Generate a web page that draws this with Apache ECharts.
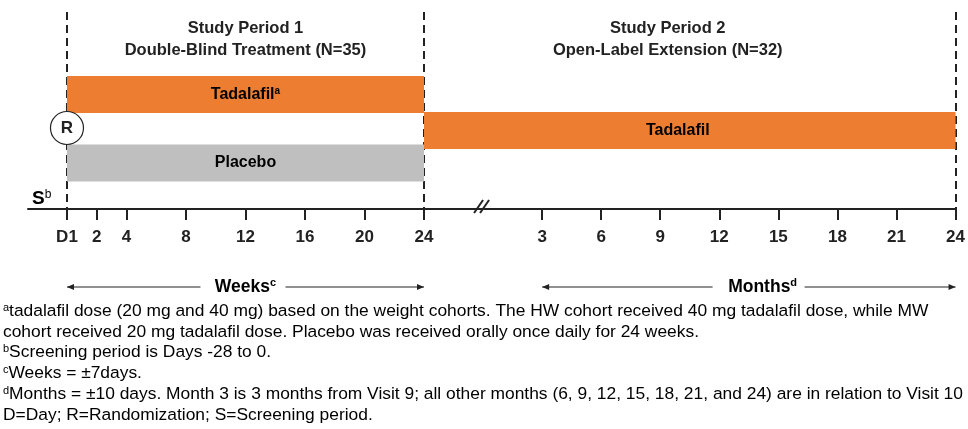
<!DOCTYPE html>
<html>
<head>
<meta charset="utf-8">
<script src="https://cdn.jsdelivr.net/npm/echarts@6/dist/echarts.min.js"></script>
<style>
html, body { margin: 0; background: #fff; }
#chart { width: 968px; height: 429px; }
</style>
</head>
<body>
<div id="chart"></div>
<script>
// timeline ticks
const weekTicks = [0, 2, 4, 8, 12, 16, 20, 24]
const weekLabels = ['D1', '2', '4', '8', '12', '16', '20', '24']
const monthTicks = [3, 6, 9, 12, 15, 18, 21, 24]
const monthLabels = ['3', '6', '9', '12', '15', '18', '21', '24']

// treatment arms (weeks in period 1, months in period 2)
const period1Arms = ['Tadalafil', 'Placebo']
const period1Sup = ['a', '']
const period1Start = [0, 0]
const period1End = [24, 24]
const period2Arms = ['Tadalafil']
const period2Start = [-3] // month axis begins where period 1 ends
const period2End = [24]

const period1Title = ['Study Period 1', 'Double-Blind Treatment (N=35)']
const period2Title = ['Study Period 2', 'Open-Label Extension (N=32)']

const footnotes = [
	['a', 'tadalafil dose (20 mg and 40 mg) based on the weight cohorts. The HW cohort received 40 mg tadalafil dose, while MW'],
	['', 'cohort received 20 mg tadalafil dose. Placebo was received orally once daily for 24 weeks.'],
	['b', 'Screening period is Days -28 to 0.'],
	['c', 'Weeks = \u00b17days.'],
	['d', 'Months = \u00b110 days. Month 3 is 3 months from Visit 9; all other months (6, 9, 12, 15, 18, 21, and 24) are in relation to Visit 10'],
	['', 'D=Day; R=Randomization; S=Screening period.'],
]

// layout (grid units are pixels from the grid top)
const FONT = '"Liberation Sans", Arial, sans-serif'
const INK = '#222'
const ORANGE = '#ED7D31'
const GREY = '#BFBFBF'
const BAR_H = 37
const period1RowY = [82.5, 151]
const period2RowY = [118.5]
const randomRowY = 116
const period1Fill = [ORANGE, GREY]

const chart = echarts.init(document.getElementById('chart'))

const makeRich = (size, supSize, raise) => ({
	b: { fontFamily: FONT, fontWeight: 'bold', fontSize: size, color: INK },
	s: { fontFamily: FONT, fontWeight: 'bold', fontSize: supSize, color: INK, padding: [0, 0, raise, 0] },
})
const barRich = makeRich(16, 10, 7)
const supText = (t, s) => '{b|' + t + '}' + (s ? '{s|' + s + '}' : '')

const renderBar = (fills, labelShift) => (params, api) => {
	const a = api.coord([api.value(0), api.value(2)])
	const b = api.coord([api.value(1), api.value(2)])
	const h = api.size([0, BAR_H])[1]
	return {
		type: 'group',
		children: [
			{
				type: 'rect',
				shape: { x: a[0], y: a[1] - h / 2, width: b[0] - a[0], height: h },
				style: { fill: fills[params.dataIndex] },
			},
			{
				type: 'text',
				style: {
					x: (a[0] + b[0]) / 2 + labelShift,
					y: a[1],
					text: api.value(3),
					rich: barRich,
					align: 'center',
					verticalAlign: 'middle',
				},
			},
		],
	}
}

const dashed = { type: [8, 5], width: 2, color: INK }

const xAxisBase = {
	type: 'value',
	position: 'bottom',
	splitLine: { show: false },
	axisLine: { show: true, onZero: false, lineStyle: { color: INK, width: 2 } },
	axisTick: { show: true, length: 11, lineStyle: { color: INK, width: 2 } },
}
const tickLabel = { fontFamily: FONT, fontWeight: 'bold', fontSize: 17, color: INK, margin: 20 }
const yAxisBase = { type: 'value', min: 0, max: 197, inverse: true, show: false }

chart.setOption({
	animation: false,
	grid: [
		{ left: 28, width: 396, top: 12, height: 197 },
		{ left: 424, right: 10, top: 12, height: 197 },
	],
	xAxis: [
		{
			...xAxisBase,
			gridIndex: 0,
			min: -2.62,
			max: 24,
			axisTick: { ...xAxisBase.axisTick, customValues: weekTicks },
			axisLabel: {
				...tickLabel,
				customValues: weekTicks,
				formatter: v => weekLabels[weekTicks.indexOf(v)],
			},
		},
		{
			...xAxisBase,
			gridIndex: 1,
			min: -3,
			max: 24,
			axisTick: { ...xAxisBase.axisTick, customValues: monthTicks },
			axisLabel: {
				...tickLabel,
				customValues: monthTicks,
				formatter: v => monthLabels[monthTicks.indexOf(v)],
			},
		},
	],
	yAxis: [
		{ ...yAxisBase, gridIndex: 0 },
		{ ...yAxisBase, gridIndex: 1 },
	],
	series: [
		{
			type: 'custom',
			xAxisIndex: 0,
			yAxisIndex: 0,
			z: 1,
			renderItem: () => null,
			data: [],
			markLine: {
				z: 1,
				silent: true,
				symbol: 'none',
				label: { show: false },
				lineStyle: dashed,
				data: [{ xAxis: 0 }, { xAxis: 24 }],
			},
		},
		{
			type: 'custom',
			xAxisIndex: 1,
			yAxisIndex: 1,
			z: 1,
			renderItem: () => null,
			data: [],
			markLine: {
				z: 1,
				silent: true,
				symbol: 'none',
				label: { show: false },
				lineStyle: dashed,
				data: [{ xAxis: 24 }],
			},
		},
		{
			type: 'custom',
			xAxisIndex: 0,
			yAxisIndex: 0,
			z: 3,
			renderItem: renderBar(period1Fill, 0),
			data: period1Arms.map((arm, i) => [
				period1Start[i], period1End[i], period1RowY[i], supText(arm, period1Sup[i]),
			]),
		},
		{
			type: 'custom',
			xAxisIndex: 1,
			yAxisIndex: 1,
			z: 3,
			renderItem: renderBar([ORANGE], -12),
			data: period2Arms.map((arm, i) => [
				period2Start[i], period2End[i], period2RowY[i], supText(arm, ''),
			]),
		},
		{
			type: 'scatter',
			xAxisIndex: 0,
			yAxisIndex: 0,
			z: 4,
			symbol: 'circle',
			symbolSize: 33,
			itemStyle: { color: '#fff', borderColor: INK, borderWidth: 1.2, opacity: 1 },
			label: {
				show: true,
				position: 'inside',
				formatter: 'R',
				fontFamily: FONT, fontWeight: 'bold', fontSize: 17, color: INK,
			},
			data: [[0, randomRowY]],
		},
	],
})

// decorations placed from the axis scales
const px1 = v => chart.convertToPixel({ xAxisIndex: 0 }, v)
const px2 = v => chart.convertToPixel({ xAxisIndex: 1 }, v)
const axisY = 209
const arrowY = 287

const boldText = (x, y, text, size) => ({
	type: 'text',
	x, y,
	style: {
		text, align: 'center', verticalAlign: 'middle',
		fontFamily: FONT, fontWeight: 'bold', fontSize: size || 16.5, fill: INK,
	},
})

const arrow = (x1, x2, y, dir) => {
	const tip = dir < 0 ? x1 : x2
	return [
		{ type: 'line', shape: { x1, y1: y, x2, y2: y }, style: { stroke: INK, lineWidth: 1 } },
		{
			type: 'polygon',
			shape: { points: [[tip, y], [tip - dir * 7, y - 3], [tip - dir * 7, y + 3]] },
			style: { fill: INK },
		},
	]
}

const arrowRich = makeRich(17.5, 11, 8)
const supLabel = (x, y, t, s) => ({
	type: 'text',
	x, y,
	style: {
		text: supText(t, s), rich: arrowRich, align: 'center', verticalAlign: 'middle',
	},
})

const graphics = []
const c1 = (px1(0) + px1(24)) / 2
const c2 = (px1(24) + px2(24)) / 2 - 22
graphics.push(boldText(c1, 28, period1Title[0]))
graphics.push(boldText(c1, 50, period1Title[1]))
graphics.push(boldText(c2, 28, period2Title[0]))
graphics.push(boldText(c2, 50, period2Title[1]))

// screening marker
graphics.push({
	type: 'text', x: 32, y: 199,
	style: {
		text: '{b|S}{s|b}', align: 'left', verticalAlign: 'middle',
		rich: {
			b: { fontFamily: FONT, fontWeight: 'bold', fontSize: 19, color: INK },
			s: { fontFamily: FONT, fontSize: 12, color: INK, padding: [0, 0, 8, 0] },
		},
	},
})

// axis break
const bx = px2(0)
;[-4, 2].forEach(dx => {
	graphics.push({
		type: 'line',
		shape: { x1: bx + dx - 5, y1: axisY + 4, x2: bx + dx + 4, y2: axisY - 9 },
		style: { stroke: INK, lineWidth: 2 },
	})
})

// period arrows
graphics.push(...arrow(px1(0), c1 - 45, arrowY, -1))
graphics.push(...arrow(c1 + 40, px1(24), arrowY, 1))
graphics.push(supLabel(c1, arrowY, 'Weeks', 'c'))
const mc = px2(14.2)
graphics.push(...arrow(px2(3), mc - 50, arrowY, -1))
graphics.push(...arrow(mc + 42, px2(24), arrowY, 1))
graphics.push(supLabel(mc, arrowY, 'Months', 'd'))

// footnotes
footnotes.forEach((f, i) => {
	graphics.push({
		type: 'text',
		x: 3,
		y: 311 + i * 20.8,
		style: {
			text: (f[0] ? '{s|' + f[0] + '}' : '') + '{n|' + f[1] + '}',
			align: 'left',
			verticalAlign: 'middle',
			rich: {
				n: { fontFamily: FONT, fontSize: 17.4, color: INK },
				s: { fontFamily: FONT, fontSize: 11, color: INK, padding: [0, 0, 7, 0] },
			},
		},
	})
})

chart.setOption({ graphic: graphics })
</script>
</body>
</html>
